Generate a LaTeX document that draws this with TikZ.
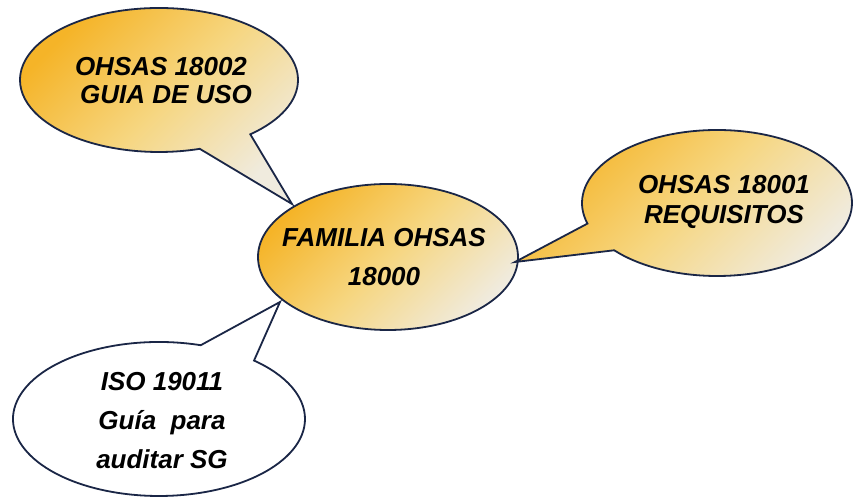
\documentclass[tikz,border=0pt]{standalone}
\usepackage{fontspec}
\setmainfont{Liberation Sans}
\usetikzlibrary{shapes.callouts,shapes.geometric}
\definecolor{rim}{RGB}{26,38,70}
\definecolor{gold}{RGB}{245,180,40}
\definecolor{honey}{RGB}{246,214,128}
\definecolor{cream}{RGB}{240,235,222}
\begin{document}
\begin{tikzpicture}[x=1pt,y=1pt,
  bubble/.style={draw=rim, line width=1.8pt, top color=gold, bottom color=cream,
                 middle color=honey, shading angle=45, inner sep=0pt},
  plain/.style={draw=rim, line width=1.8pt, fill=white, inner sep=0pt},
  txt/.style={align=center, inner sep=0pt},
  wide/.style={font=\fontsize{26}{39}\selectfont\bfseries\itshape},
  tight/.style={font=\fontsize{26}{28}\selectfont\bfseries\itshape},
  mid/.style={font=\fontsize{26}{30}\selectfont\bfseries\itshape}]
  \useasboundingbox (0,0) rectangle (854,500);
  \fill[white] (0,0) rectangle (854,500);

  % pointer tips resting on the central ellipse
  \coordinate (tipguide) at (292,296);
  \coordinate (tipreq)   at (515,238);
  \coordinate (tipaudit) at (280,198);

  % central ellipse
  \node[ellipse, bubble, minimum width=260pt, minimum height=146pt] (hub) at (388,243) {};
  \node[txt, wide] (hubtext) at (384,243) {FAMILIA OHSAS\\18000};

  % speech bubbles around it
  \node[ellipse callout, bubble, minimum width=278pt, minimum height=144pt,
        callout absolute pointer={(tipguide)}, callout pointer arc=24] (guide) at (159,420) {};
  \node[txt, tight] (guidetext) at (161,419) {OHSAS 18002\\\hspace*{10pt}GUIA DE USO};

  \node[ellipse callout, bubble, minimum width=270pt, minimum height=146pt,
        callout absolute pointer={(tipreq)}, callout pointer arc=24] (req) at (717,297) {};
  \node[txt, mid] (reqtext) at (724,298) {OHSAS 18001\\REQUISITOS};

  \node[ellipse callout, plain, minimum width=292pt, minimum height=154pt,
        callout absolute pointer={(tipaudit)}, callout pointer arc=24] (audit) at (159,81) {};
  \node[txt, wide] (audittext) at (162,79) {ISO 19011\\Guía~~para\\auditar SG};
\end{tikzpicture}
\end{document}
